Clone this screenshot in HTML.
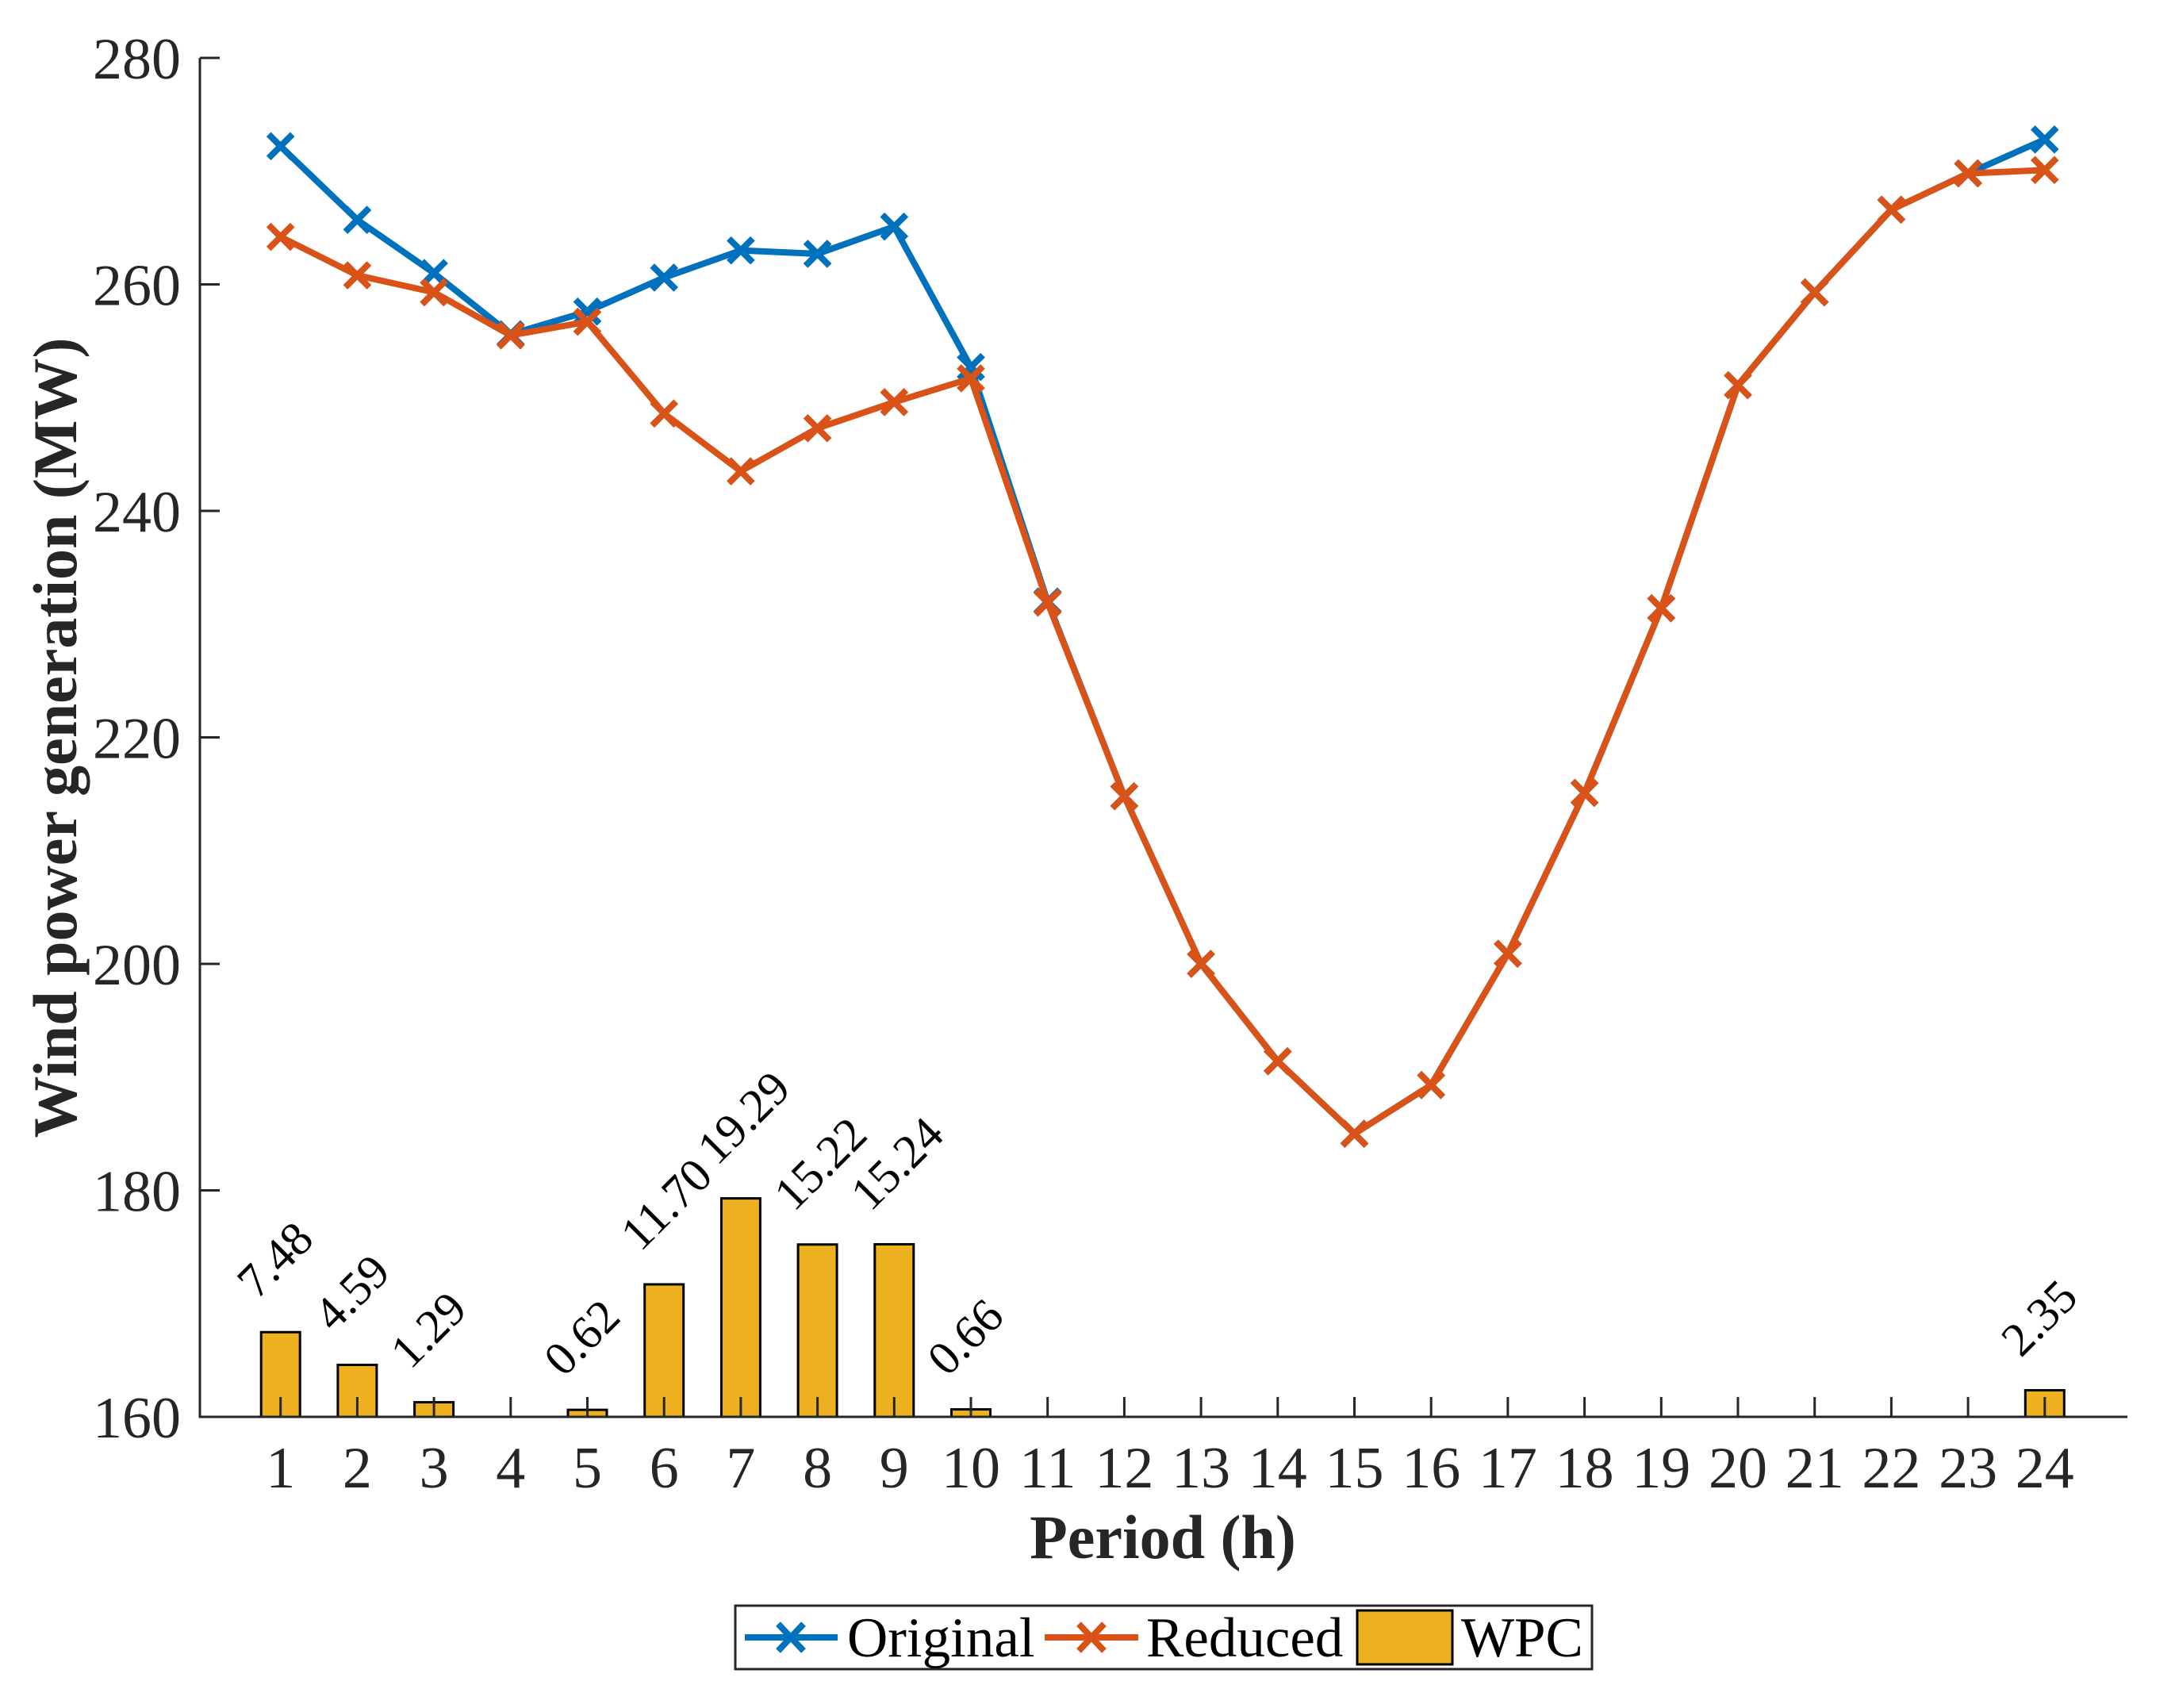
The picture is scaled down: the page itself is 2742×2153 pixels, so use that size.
<!DOCTYPE html>
<html><head><meta charset="utf-8"><style>
html,body{margin:0;padding:0;background:#fff;}
svg{display:block;font-family:"Liberation Serif",serif;}
</style></head><body>
<svg id="chart" width="2742" height="2153" viewBox="0 0 2742 2153" xmlns="http://www.w3.org/2000/svg">
<rect width="2742" height="2153" fill="#fff"/>
<g id="bars"></g>
<g id="lines"></g>
<g id="axes"></g>
<text x="1466" y="1964" font-size="78" font-weight="bold" text-anchor="middle" fill="#262626">Period (h)</text>
<text transform="translate(96,930) rotate(-90)" font-size="78" font-weight="bold" text-anchor="middle" fill="#262626">Wind power generation (MW)</text>
<g transform="translate(-9,-21)">
<rect x="936" y="2045" width="1080" height="80" fill="#fff" stroke="#262626" stroke-width="3"/>
<line x1="948" y1="2085" x2="1065" y2="2085" stroke="#0072BD" stroke-width="8"/>
<path d="M990 2068 L1022 2102 M1022 2068 L990 2102" stroke="#0072BD" stroke-width="8"/>
<text x="1077" y="2109" font-size="71">Original</text>
<line x1="1326" y1="2085" x2="1444" y2="2085" stroke="#D95319" stroke-width="8"/>
<path d="M1369 2068 L1401 2102 M1401 2068 L1369 2102" stroke="#D95319" stroke-width="8"/>
<text x="1454" y="2109" font-size="71">Reduced</text>
<rect x="1720" y="2051" width="120" height="68" fill="#EDB120" stroke="#000" stroke-width="3"/>
<text x="1851" y="2109" font-size="71">WPC</text>
</g>
</svg>
<script>
const periods = [1,2,3,4,5,6,7,8,9,10,11,12,13,14,15,16,17,18,19,20,21,22,23,24];
const original = [272.2,265.7,261.0,255.6,257.6,260.6,263.0,262.7,265.1,252.7,232.0,214.8,200.0,191.4,185.0,189.3,200.9,215.1,231.4,251.1,259.3,266.6,269.8,272.8];
const reduced = [264.2,260.8,259.3,255.5,256.7,248.6,243.5,247.3,249.6,251.7,231.9,214.8,200.0,191.4,185.0,189.3,200.9,215.1,231.4,251.1,259.3,266.6,269.8,270.1];
const wpc = [7.48,4.59,1.29,0,0.62,11.70,19.29,15.22,15.24,0.66,0,0,0,0,0,0,0,0,0,0,0,0,0,2.35];
const wpcLabels = ["7.48","4.59","1.29","","0.62","11.70","19.29","15.22","15.24","0.66","","","","","","","","","","","","","","2.35"];
const yTicks = [160,180,200,220,240,260,280];

const NS="http://www.w3.org/2000/svg";
const L=252,R=2682,T=73,B=1786;
function xs(p){return 353.7+(p-1)*96.7;}
function ys(v){return B-(v-160)*(B-T)/120;}
function mk(tag,attrs,parent){const e=document.createElementNS(NS,tag);for(const k in attrs)e.setAttribute(k,attrs[k]);parent.appendChild(e);return e;}
const bars=document.getElementById('bars'),lines=document.getElementById('lines'),axes=document.getElementById('axes');

periods.forEach((p,i)=>{
  const top=ys(160+wpc[i]);
  const r=mk('rect',{x:xs(p)-24.5,y:top,width:49,height:B-top,fill:'#EDB120',stroke:'#000','stroke-width':3},bars);
  
  
  if(wpcLabels[i]){
    const t=mk('text',{transform:`translate(${xs(p)-30},${top-40}) rotate(-45)`,'font-size':60,fill:'#000'},bars);
    t.textContent=wpcLabels[i];
    
    
  }
});

function series(vals,color,name){
  const pl=mk('polyline',{points:periods.map((p,i)=>xs(p)+','+ys(vals[i])).join(' '),fill:'none',stroke:color,'stroke-width':8,'stroke-linejoin':'round'},lines);
  
  
  periods.forEach((p,i)=>{
    const x=xs(p),y=ys(vals[i]),s=15;
    const m=mk('path',{d:`M${x-s} ${y-s} L${x+s} ${y+s} M${x+s} ${y-s} L${x-s} ${y+s}`,stroke:color,'stroke-width':8},lines);
    
    
  });
}
series(original,'#0072BD','original');
series(reduced,'#D95319','reduced');

const ax=mk('path',{d:`M${L} ${T} L${L} ${B} L${R} ${B}`,fill:'none',stroke:'#262626','stroke-width':3},axes);


yTicks.forEach(v=>{
  const y=ys(v);
  const tk=mk('line',{x1:L,y1:y,x2:L+25,y2:y,stroke:'#262626','stroke-width':3},axes);
  
  
  const t=mk('text',{x:228,y:y+26,'font-size':74,'text-anchor':'end',fill:'#262626'},axes);
  t.textContent=v;
  
  
});
periods.forEach(p=>{
  const x=xs(p);
  const tk=mk('line',{x1:x,y1:B,x2:x,y2:B-25,stroke:'#262626','stroke-width':3},axes);
  
  
  const t=mk('text',{x:x,y:1875,'font-size':74,'text-anchor':'middle',fill:'#262626'},axes);
  t.textContent=p;
  
  
});
</script>
</body></html>
